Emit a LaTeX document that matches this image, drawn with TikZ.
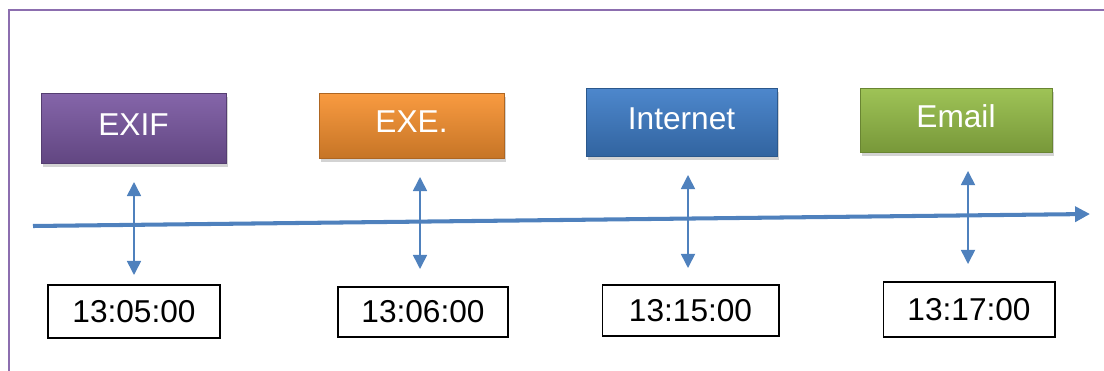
\documentclass[tikz,border=0pt]{standalone}
\usepackage{fontspec}
\setmainfont{Liberation Sans}
\usepackage{xcolor}
\usepackage{tikz}
\usetikzlibrary{positioning,arrows.meta,shadows}
\definecolor{exifpurple}{RGB}{122,88,162}
\definecolor{exeorange}{RGB}{248,146,48}
\definecolor{netblue}{RGB}{62,125,200}
\definecolor{mailgreen}{RGB}{150,190,72}
\definecolor{lineblue}{RGB}{79,129,189}
\definecolor{framepurple}{RGB}{140,110,175}

\begin{document}
\begin{tikzpicture}[x=0.02cm,y=-0.02cm,
    event/.style={rectangle,draw=#1!70!black,line width=0.4pt,
        top color=#1!92!white,bottom color=#1!80!black,
        drop shadow={shadow xshift=1pt,shadow yshift=-2.5pt,opacity=0.35},
        text=white,text depth=4pt,
        font=\fontsize{18}{20}\selectfont},
    stamp/.style={rectangle,draw=black,line width=0.6pt,fill=white,
        font=\fontsize{18}{20}\selectfont},
    link/.style={{Triangle[length=8pt,width=8pt]}-{Triangle[length=8pt,width=8pt]},
        lineblue,line width=0.9pt}]

    \useasboundingbox (0,0) rectangle (1104,371);
    \draw[framepurple,line width=1.2pt] (9,400) -- (9,10) -- (1120,10);

    % upper boxes
    \node[event=exifpurple,minimum width=3.70cm,minimum height=1.40cm] (exif) at (133.5,128) {EXIF};
    \node[event=exeorange,minimum width=3.70cm,minimum height=1.30cm] (exe) at (411.5,125.5) {EXE.};
    \node[event=netblue,minimum width=3.82cm,minimum height=1.36cm] (net) at (681.5,122) {Internet};
    \node[event=mailgreen,minimum width=3.84cm,minimum height=1.28cm] (mail) at (956,120) {Email};

    % time stamps
    \node[stamp,minimum width=3.44cm,minimum height=1.06cm] (t1) at (134,311.5) {13:05:00};
    \node[stamp,minimum width=3.40cm,minimum height=1.00cm] (t2) at (423,312) {13:06:00};
    \node[stamp,minimum width=3.54cm,minimum height=1.02cm] (t3) at (690.5,310.5) {13:15:00};
    \node[stamp,minimum width=3.44cm,minimum height=1.10cm] (t4) at (969,309.5) {13:17:00};

    % time line
    \coordinate (start) at (33,226);
    \coordinate (end) at (1090,214);
    \draw[-{Triangle[length=8.5pt,width=8.5pt]},lineblue,line width=2.3pt] (start) -- (end);

    \coordinate (a1) at (134,182);
    \coordinate (b1) at (134,275);
    \coordinate (a2) at (420,177);
    \coordinate (b2) at (420,269);
    \coordinate (a3) at (688,175);
    \coordinate (b3) at (688,268);
    \coordinate (a4) at (968,171);
    \coordinate (b4) at (968,264);
    \draw[link] (a1) -- (b1);
    \draw[link] (a2) -- (b2);
    \draw[link] (a3) -- (b3);
    \draw[link] (a4) -- (b4);

\end{tikzpicture}
\end{document}
